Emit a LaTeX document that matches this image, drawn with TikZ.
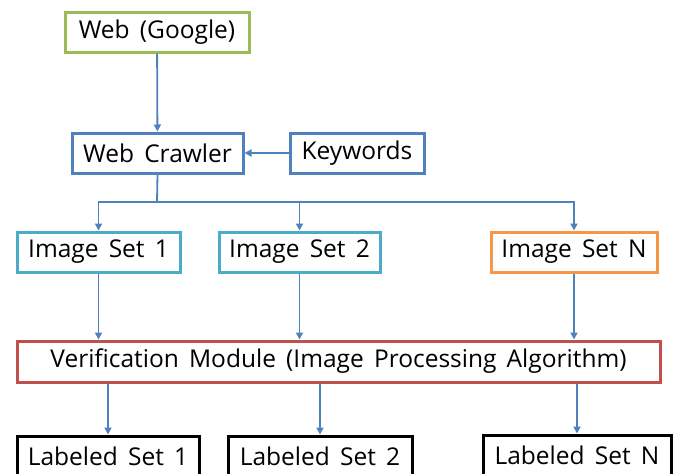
\documentclass[tikz,border=0pt]{standalone}
\usepackage{fontspec}
\setmainfont{Open Sans}[WordSpace={1.6}]
\usetikzlibrary{arrows.meta}
\definecolor{cgreen}{RGB}{155,187,89}
\definecolor{cblue}{RGB}{79,129,189}
\definecolor{ccyan}{RGB}{75,172,198}
\definecolor{corange}{RGB}{247,150,70}
\definecolor{cred}{RGB}{192,80,77}
\tikzset{
  box/.style={draw=#1, line width=3pt, fill=white, minimum height=40pt,
    inner sep=0pt, font=\fontsize{24.5}{27}\selectfont, text=black},
  link/.style={draw=cblue, line width=1.8pt, -{Triangle[length=7pt,width=7pt]}},
  wire/.style={draw=cblue, line width=1.8pt}
}
\begin{document}
\begin{tikzpicture}[x=1pt,y=-1pt]
\useasboundingbox (0,0) rectangle (675,474);
\fill[white] (0,0) rectangle (675,474);
\begin{scope}
\clip (0,0) rectangle (675,474);
% source and crawler
\node[box=cgreen, minimum width=184pt] (web) at (157,32) {Web (Google)};
\node[box=cblue, minimum width=171pt] (crawler) at (157.5,153) {Web Crawler};
\node[box=cblue, minimum width=134pt] (kw) at (357,153) {Keywords};
% image sets
\node[box=ccyan, minimum width=163pt] (is1) at (98.5,252) {Image Set 1};
\node[box=ccyan, minimum width=161pt] (is2) at (299.5,252) {Image Set 2};
\node[box=corange, minimum width=166pt] (isn) at (574,252) {Image Set N};
% verification
\node[box=cred, minimum width=643pt, minimum height=41pt] (ver) at (338.5,361.5) {Verification Module (Image Processing Algorithm)};
% labeled sets
\node[box=black, minimum width=182pt] (ls1) at (108,456) {Labeled Set 1};
\node[box=black, minimum width=184pt] (ls2) at (320,456) {Labeled Set 2};
\node[box=black, minimum width=188pt] (lsn) at (577,455) {Labeled Set N};

\coordinate (split) at (157,202);
\draw[link] (web) -- (crawler);
\draw[link] (kw) -- (crawler);
\draw[wire] (crawler.south) -- (split);
\draw[link] (split) -| (is1.north);
\draw[link] (split) -| (is2.north);
\draw[link] (split) -| (isn.north);
\draw[link] (is1.south) -- (is1.south |- ver.north);
\draw[link] (is2.south) -- (is2.south |- ver.north);
\draw[link] (isn.south) -- (isn.south |- ver.north);
\draw[link] (ls1.north |- ver.south) -- (ls1.north);
\draw[link] (ls2.north |- ver.south) -- (ls2.north);
\draw[link] (lsn.north |- ver.south) -- (lsn.north);
\end{scope}
\end{tikzpicture}
\end{document}
